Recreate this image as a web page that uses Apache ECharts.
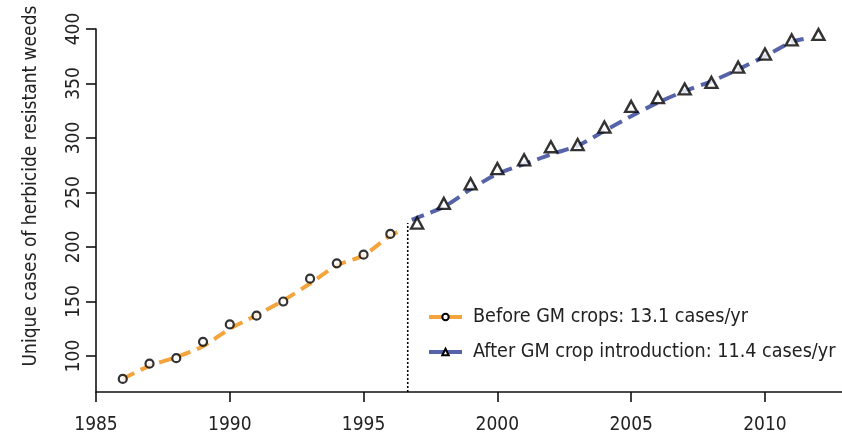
<!DOCTYPE html>
<html>
<head>
<meta charset="utf-8">
<script src="https://cdn.jsdelivr.net/npm/echarts@6/dist/echarts.min.js"></script>
<style>html,body{margin:0;padding:0;background:#fff;}#c{width:842px;height:440px;}</style>
</head>
<body>
<div id="c"></div>
<script>
// ---- data ----
var yearsBefore = [1986, 1987, 1988, 1989, 1990, 1991, 1992, 1993, 1994, 1995, 1996];
var casesBefore = [79, 93, 98, 113, 129, 137, 150, 171, 185, 193, 212];
var yearsAfter = [1997, 1998, 1999, 2000, 2001, 2002, 2003, 2004, 2005, 2006, 2007, 2008, 2009, 2010, 2011, 2012];
var casesAfter = [222, 240, 258, 272, 280, 292, 294, 310, 329, 337, 345, 351, 365, 377, 390, 395];
// smoothed trend lines
var fitBeforeX = [1986, 1987, 1988, 1989, 1990, 1991, 1992, 1993, 1994, 1995, 1996, 1996.4];
var fitBeforeY = [79, 91, 99, 109, 125, 137.5, 151, 166.5, 183, 192.5, 210.5, 215];
var fitAfterX = [1996.8, 1998, 1999, 2000, 2001, 2002, 2003, 2004, 2005, 2006, 2007, 2008, 2009, 2010, 2011, 2011.5];
var fitAfterY = [225, 237, 253, 267, 276, 285, 293, 306.5, 320, 332.5, 343, 352, 363, 375, 388, 391];
// GM crop introduction divider
var gmYear = 1996.65;
var dividerRange = [67, 222];
var nameBefore = 'Before GM crops: 13.1 cases/yr';
var nameAfter = 'After GM crop introduction: 11.4 cases/yr';
var yTicks = [100, 150, 200, 250, 300, 350, 400];
var yTitle = 'Unique cases of herbicide resistant weeds';

function zip(a, b) { return a.map(function (v, i) { return [v, b[i]]; }); }

var FONT = '"Liberation Sans Narrow", "DejaVu Sans Condensed", sans-serif';
var ORANGE = '#F3A43C';
var BLUE = '#5763A8';

var chart = echarts.init(document.getElementById('c'), null, { renderer: 'canvas' });
chart.setOption({
  animation: false,
  backgroundColor: '#fff',
  grid: { left: 96, top: 29, right: 0, bottom: 48, containLabel: false },
  xAxis: {
    type: 'value', min: 1985, max: 2012.88, interval: 5,
    axisLine: { show: true, lineStyle: { color: '#111', width: 1.6 } },
    axisTick: { show: true, length: 10, lineStyle: { color: '#111', width: 1.6 } },
    axisLabel: { margin: 24, fontFamily: FONT, fontSize: 19, color: '#222', showMaxLabel: false,
      formatter: function (v) { return String(v); } },
    splitLine: { show: false }
  },
  yAxis: {
    type: 'value', min: 67, max: 400,
    axisLine: { show: true, lineStyle: { color: '#111', width: 1.6 } },
    axisTick: { show: true, length: 10, customValues: yTicks, lineStyle: { color: '#111', width: 1.6 } },
    axisLabel: { margin: 12, rotate: 90, fontFamily: FONT, fontSize: 19, color: '#222', customValues: yTicks },
    splitLine: { show: false }
  },
  legend: {
    orient: 'vertical', left: 427, top: 307, padding: 0, itemWidth: 33, itemHeight: 8, itemGap: 15,
    data: [nameBefore, nameAfter],
    lineStyle: { type: 'solid', width: 4 },
    textStyle: { fontFamily: FONT, fontSize: 19.6, color: '#222', padding: [0, 0, 0, 6] }
  },
  graphic: [{
    type: 'text', x: 31, y: 186, rotation: Math.PI / 2,
    style: { text: yTitle, font: '19px ' + FONT, fill: '#222', textAlign: 'center', textVerticalAlign: 'middle' }
  }],
  series: [
    {
      name: nameBefore, type: 'line', data: zip(fitBeforeX, fitBeforeY), smooth: 0.3,
      showSymbol: false, symbol: 'emptyCircle', itemStyle: { color: '#000' },
      lineStyle: { color: ORANGE, width: 4, type: [13, 7] }, z: 2, silent: true
    },
    {
      name: nameAfter, type: 'line', data: zip(fitAfterX, fitAfterY), smooth: 0.3,
      showSymbol: false, symbol: 'emptyTriangle', itemStyle: { color: '#000' },
      lineStyle: { color: BLUE, width: 4, type: [13, 7] }, z: 2, silent: true
    },
    {
      name: 'divider', type: 'line', data: [[gmYear, dividerRange[0]], [gmYear, dividerRange[1]]],
      showSymbol: false, lineStyle: { color: '#000', width: 1.6, type: [2, 2] }, z: 1, silent: true
    },
    {
      name: nameBefore, type: 'scatter', data: zip(yearsBefore, casesBefore), symbol: 'circle', symbolSize: 8,
      itemStyle: { color: '#fff', borderColor: '#000', borderWidth: 2.2 }, z: 5
    },
    {
      name: nameAfter, type: 'scatter', data: zip(yearsAfter, casesAfter), symbol: 'triangle', symbolSize: [12, 11],
      itemStyle: { color: '#fff', borderColor: '#000', borderWidth: 2.4 }, z: 5
    }
  ]
});
</script>
</body>
</html>
